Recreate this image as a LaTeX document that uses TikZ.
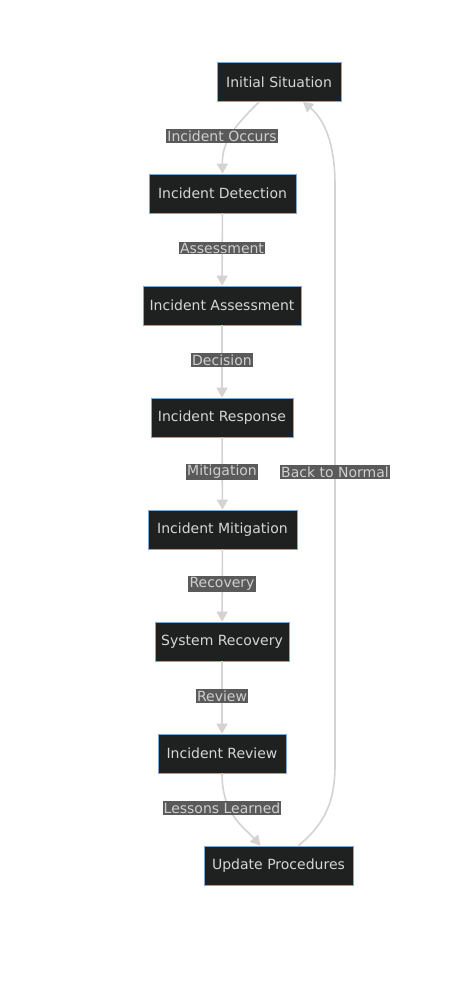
\documentclass[tikz,border=0pt]{standalone}
\usepackage{fontspec}
\setmainfont{DejaVu Sans}
\usetikzlibrary{arrows.meta,calc}
\definecolor{nodefill}{HTML}{1F2020}
\definecolor{nodeline}{HTML}{81A8CF}
\definecolor{nodetext}{HTML}{D6D6D6}
\definecolor{edgecol}{HTML}{D3D3D3}
\definecolor{lblfill}{HTML}{5A5A5A}
\definecolor{lbltext}{HTML}{CFCFCF}
\tikzset{
  box/.style={draw=nodeline, line width=0.8pt, fill=nodefill, text=nodetext,
    minimum height=39, inner sep=0pt, font=\fontsize{14}{16}\selectfont},
  conn/.style={draw=edgecol, line width=1.6pt, -{Triangle[length=10pt,width=11pt]}},
  lbl/.style={fill=lblfill, text=lbltext, inner sep=1.2pt, font=\fontsize{14}{16}\selectfont}
}
\begin{document}
\begin{tikzpicture}[x=1pt,y=-1pt]
\useasboundingbox (0,0) rectangle (474,1002);
\fill[white] (0,0) rectangle (474,1002);
\node[box, minimum width=124] (init) at (279,82) {Initial Situation};
\node[box, minimum width=147] (det) at (222.5,193.5) {Incident Detection};
\node[box, minimum width=158] (ass) at (222,305.5) {Incident Assessment};
\node[box, minimum width=142] (resp) at (222,417.5) {Incident Response};
\node[box, minimum width=149] (mit) at (222.5,529.5) {Incident Mitigation};
\node[box, minimum width=134] (rec) at (222,641.5) {System Recovery};
\node[box, minimum width=128] (rev) at (222,753.5) {Incident Review};
\node[box, minimum width=149] (upd) at (278.5,865.5) {Update Procedures};

\coordinate (a1) at ($(init.south)+(-20,0)$);
\coordinate (a2) at ($(init.south)+(24,0)$);
\coordinate (u1) at ($(upd.north)+(-18,0)$);
\coordinate (u2) at ($(upd.north)+(20,0)$);

\draw[conn] (a1) .. controls (236,125) and (222,140) .. (det.north);
\draw[conn] (det) -- (ass);
\draw[conn] (ass) -- (resp);
\draw[conn] (resp) -- (mit);
\draw[conn] (mit) -- (rec);
\draw[conn] (rec) -- (rev);
\draw[conn] (rev.south) .. controls (222,815) and (245,828) .. (u1);
\draw[conn] (u2) .. controls (326,823) and (335,800) .. (335,765) -- (335,185) .. controls (335,145) and (325,120) .. (a2);

\node[lbl] (l1) at (222,136) {Incident Occurs};
\node[lbl] (l2) at (222,248) {Assessment};
\node[lbl] (l3) at (222,360) {Decision};
\node[lbl] (l4) at (222,472) {Mitigation};
\node[lbl] (l5) at (222,584) {Recovery};
\node[lbl] (l6) at (222,696) {Review};
\node[lbl] (l7) at (222,808) {Lessons Learned};
\node[lbl] (l8) at (335,472) {Back to Normal};
\end{tikzpicture}
\end{document}
